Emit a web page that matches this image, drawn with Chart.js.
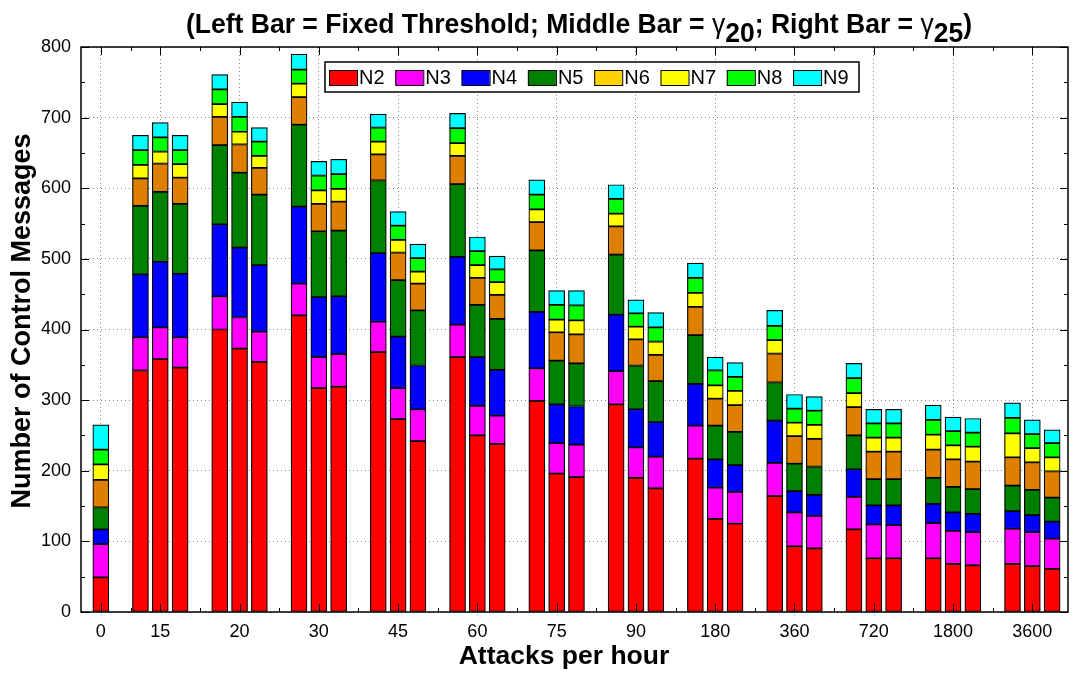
<!DOCTYPE html>
<html>
<head>
<meta charset="utf-8">
<script src="https://cdn.jsdelivr.net/npm/chart.js@4.4.1/dist/chart.umd.min.js"></script>
<style>
  body { margin: 0; background: #fff; }
  canvas { display: block; }
</style>
</head>
<body>
<canvas id="chart" width="1072" height="674"></canvas>
<script>
// attack rates (one group per rate; group "0" has a single bar)
const groups = ["0", "15", "20", "30", "45", "60", "75", "90", "180", "360", "720", "1800", "3600"];
const names = ["N2", "N3", "N4", "N5", "N6", "N7", "N8", "N9"];

// per group: [left, middle, right] bar = [fixed threshold, gamma20, gamma25]
const N2 = [[49], [342, 358, 346], [400, 373, 354], [420, 317, 319], [368, 273, 242], [361, 250, 238], [299, 196, 191], [294, 190, 175], [217, 132, 125], [164, 93, 90], [117, 76, 76], [76, 68, 66], [68, 65, 61]];
const N3 = [[47], [47, 45, 43], [47, 44, 43], [45, 44, 46], [43, 44, 45], [46, 42, 40], [46, 43, 46], [47, 43, 45], [47, 44, 45], [47, 48, 46], [46, 48, 47], [50, 47, 47], [50, 48, 43]];
const N4 = [[21], [89, 93, 90], [102, 99, 94], [109, 85, 82], [97, 73, 62], [96, 69, 65], [80, 55, 54], [80, 54, 49], [59, 40, 38], [60, 30, 30], [39, 27, 28], [27, 26, 26], [25, 24, 24]];
const N5 = [[31], [97, 99, 99], [112, 106, 100], [116, 93, 93], [103, 80, 78], [103, 74, 72], [87, 62, 61], [85, 62, 58], [69, 48, 47], [54, 39, 40], [48, 37, 37], [37, 36, 35], [36, 36, 34]];
const N6 = [[39], [39, 40, 37], [40, 40, 38], [39, 39, 41], [37, 39, 38], [40, 38, 34], [40, 40, 41], [40, 37, 37], [40, 38, 38], [41, 39, 39], [40, 39, 39], [40, 39, 39], [40, 39, 37]];
const N7 = [[22], [19, 17, 19], [18, 18, 17], [19, 19, 18], [18, 18, 17], [18, 18, 18], [18, 18, 20], [18, 18, 19], [20, 19, 20], [19, 19, 20], [20, 20, 20], [21, 20, 21], [34, 20, 20]];
const N8 = [[21], [21, 20, 20], [21, 21, 20], [20, 21, 21], [20, 20, 19], [21, 20, 18], [21, 21, 21], [21, 19, 20], [21, 21, 20], [20, 20, 20], [21, 20, 20], [21, 20, 20], [22, 20, 20]];
const N9 = [[35], [21, 21, 21], [21, 21, 20], [22, 20, 21], [19, 20, 20], [21, 20, 19], [21, 20, 21], [20, 19, 21], [21, 19, 20], [22, 20, 20], [21, 20, 20], [21, 20, 20], [21, 20, 19]];

const series = [N2, N3, N4, N5, N6, N7, N8, N9];
const colors = ["#FF0000", "#FF00FF", "#0000FF", "#008000", "#DF7F00", "#FFFF00", "#00FF00", "#00FFFF"];
const keyColors = ["#FF0000", "#FF00FF", "#0000FF", "#008000", "#FFD200", "#FFFF00", "#00FF00", "#00FFFF"];

// group centres on the x axis; the "0" group sits in the slot just before "15"
const groupPos = groups.map((g, i) => i === 0 ? 0.25 : i);
const slot = 0.25;

function points(vals) {
    const out = [];
    vals.forEach((bars, i) => {
        bars.forEach((v, j) => {
            const off = bars.length === 1 ? 0 : (j - 1) * slot;
            out.push({ x: groupPos[i] + off, y: v });
        });
    });
    return out;
}

Chart.defaults.font.family = "'Liberation Sans', Arial, sans-serif";
Chart.defaults.color = "#000";

const decor = {
    id: "decor",
    afterDraw(chart) {
        const { ctx, chartArea: a, scales: { x, y } } = chart;
        ctx.save();
        ctx.strokeStyle = "#000";
        ctx.lineWidth = 1;

        const line = (x1, y1, x2, y2) => {
            ctx.beginPath();
            ctx.moveTo(x1, y1);
            ctx.lineTo(x2, y2);
            ctx.stroke();
        };

        // y tick marks, both sides
        for (let v = 0; v <= 800; v += 50) {
            const py = Math.round(y.getPixelForValue(v)) + 0.5;
            const len = v % 100 === 0 ? 8 : 4;
            line(a.left, py, a.left + len, py);
            line(a.right, py, a.right - len, py);
        }
        // x tick marks, top and bottom
        groupPos.forEach((g, i) => {
            const px = Math.round(x.getPixelForValue(g)) + 0.5;
            line(px, a.top, px, a.top + 8);
            line(px, a.bottom, px, a.bottom - 8);
            if (i > 0) {
                const mx = Math.round(x.getPixelForValue((g + groupPos[i - 1]) / 2)) + 0.5;
                line(mx, a.top, mx, a.top + 4);
                line(mx, a.bottom, mx, a.bottom - 4);
            }
        });

        // frame
        ctx.lineWidth = 1.5;
        ctx.strokeRect(a.left, a.top, a.right - a.left, a.bottom - a.top);

        // legend box inside the plot
        const lx = 325, ly = 62, lw = 534, lh = 30;
        ctx.fillStyle = "#fff";
        ctx.fillRect(lx, ly, lw, lh);
        ctx.strokeRect(lx, ly, lw, lh);
        ctx.font = "20px 'Liberation Sans', Arial, sans-serif";
        ctx.textBaseline = "middle";
        ctx.textAlign = "left";
        names.forEach((n, i) => {
            const sx = lx + 4 + i * 66.3;
            ctx.fillStyle = keyColors[i];
            ctx.fillRect(sx, ly + 8, 28, 15);
            ctx.lineWidth = 1;
            ctx.strokeRect(sx + 0.5, ly + 8.5, 28, 15);
            ctx.fillStyle = "#000";
            ctx.fillText(n, sx + 30, ly + 16);
        });

        // main title with gamma subscripts, condensed to the reference width
        const parts = [
            ["(Left Bar = Fixed Threshold; Middle Bar = ", "bold", 0],
            ["\u03B3", "normal", 0],
            ["20", "bold", 9],
            ["; Right Bar = ", "bold", 0],
            ["\u03B3", "normal", 0],
            ["25", "bold", 9],
            [")", "bold", 0]
        ];
        const fontOf = w => w + " 28px 'Liberation Sans', Arial, sans-serif";
        let total = 0;
        parts.forEach(p => { ctx.font = fontOf(p[1]); total += ctx.measureText(p[0]).width; });
        const targetW = 786;
        const sc = targetW / total;
        ctx.save();
        ctx.translate(579 - targetW / 2, 33);
        ctx.scale(sc, 1);
        ctx.textBaseline = "alphabetic";
        ctx.fillStyle = "#000";
        let cx = 0;
        parts.forEach(p => {
            ctx.font = fontOf(p[1]);
            ctx.fillText(p[0], cx, p[2]);
            cx += ctx.measureText(p[0]).width;
        });
        ctx.restore();

        // axis titles
        ctx.textAlign = "center";
        ctx.textBaseline = "middle";
        ctx.font = "bold 26.5px 'Liberation Sans', Arial, sans-serif";
        ctx.fillText("Attacks per hour", 564, 657);
        ctx.font = "bold 27px 'Liberation Sans', Arial, sans-serif";
        ctx.save();
        ctx.translate(23, 321);
        ctx.rotate(-Math.PI / 2);
        ctx.fillText("Number of Control Messages", 0, 0);
        ctx.restore();

        ctx.restore();
    }
};

new Chart(document.getElementById("chart"), {
    type: "bar",
    data: {
        datasets: names.map((n, k) => ({
            label: n,
            data: points(series[k]),
            backgroundColor: colors[k],
            borderColor: "#000",
            borderWidth: 1.2,
            borderSkipped: false,
            barThickness: 16
        }))
    },
    options: {
        responsive: false,
        animation: false,
        layout: { padding: { top: 47, right: 4, left: 0, bottom: 0 } },
        plugins: {
            legend: { display: false },
            tooltip: { enabled: false }
        },
        scales: {
            x: {
                type: "linear",
                stacked: true,
                offset: false,
                min: 0,
                max: 12.45,
                afterBuildTicks: s => { s.ticks = groupPos.map(v => ({ value: v })); },
                afterFit: s => { s.height = 62; },
                grid: { color: "#888", drawTicks: false, offset: false },
                border: { display: false, dash: [1, 3] },
                ticks: {
                    callback: (v, i) => groups[i],
                    autoSkip: false,
                    maxRotation: 0,
                    padding: 9,
                    font: { size: 18 }
                }
            },
            y: {
                stacked: true,
                min: 0,
                max: 800,
                afterFit: s => { s.width = 81; },
                grid: { color: "#888", drawTicks: false },
                border: { display: false, dash: [1, 3] },
                ticks: { stepSize: 100, padding: 10, font: { size: 18 } }
            }
        }
    },
    plugins: [decor]
});
</script>
</body>
</html>
